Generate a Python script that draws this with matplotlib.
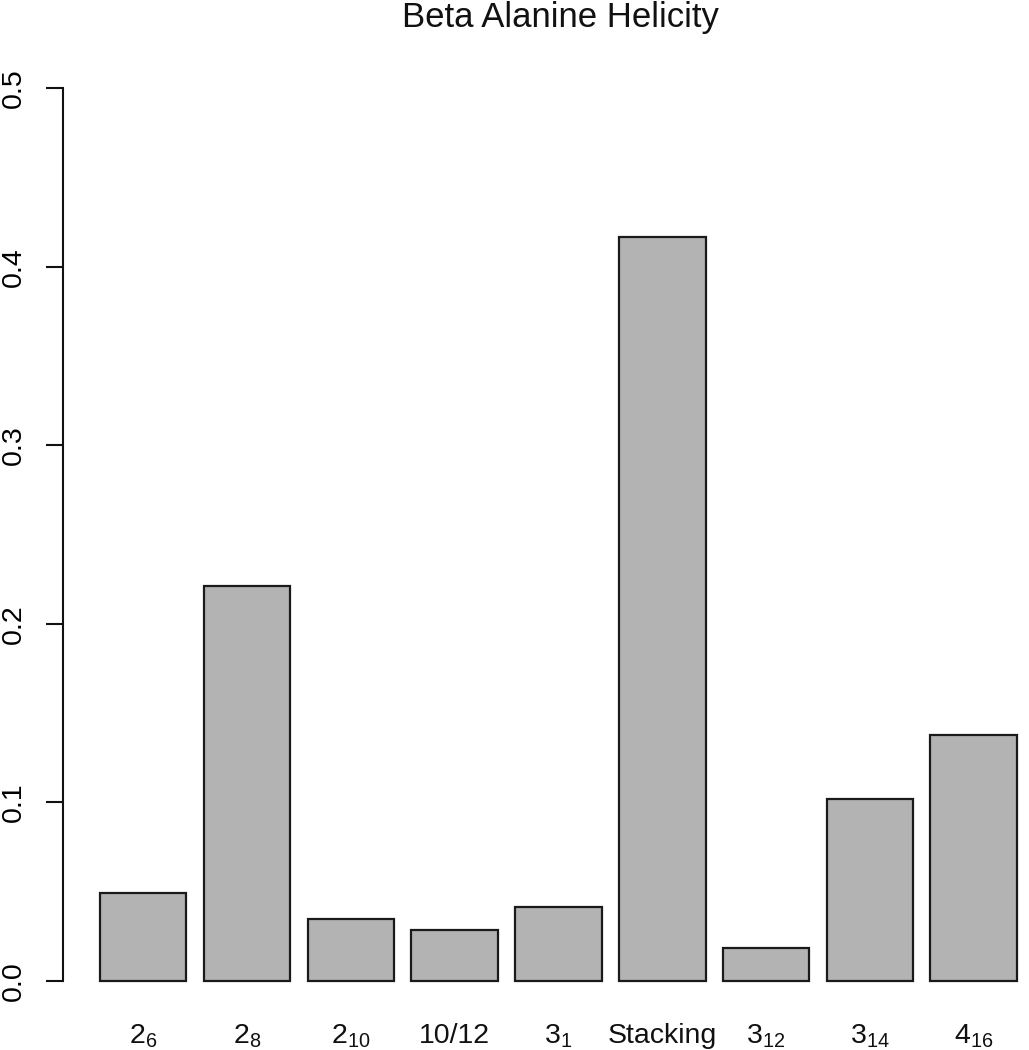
import matplotlib
matplotlib.use('Agg')
import matplotlib.pyplot as plt
import matplotlib.transforms as mtransforms

plt.rcParams['font.family'] = ['Liberation Sans', 'DejaVu Sans']
plt.rcParams['mathtext.fontset'] = 'custom'
plt.rcParams['mathtext.rm'] = 'Liberation Sans'
plt.rcParams['mathtext.it'] = 'Liberation Sans'

# data
categories = [r'$\mathregular{2_{6}}$', r'$\mathregular{2_{8}}$', r'$\mathregular{2_{10}}$',
              '10/12', r'$\mathregular{3_{1}}$', 'Stacking', r'$\mathregular{3_{12}}$',
              r'$\mathregular{3_{14}}$', r'$\mathregular{4_{16}}$']
values = [0.0493, 0.221, 0.0349, 0.0288, 0.0415, 0.4167, 0.0185, 0.1018, 0.1378]
yticks = [0.0, 0.1, 0.2, 0.3, 0.4, 0.5]
ytick_labels = ['0.0', '0.1', '0.2', '0.3', '0.4', '0.5']

W, H = 1029, 1050
fig = plt.figure(figsize=(W / 100, H / 100), dpi=100)
fig.patch.set_facecolor('white')

# plot region like R barplot (extends past the right edge of the image)
ax = fig.add_axes([63.3 / W, (H - 1016.7) / H, (1053.6 - 63.3) / W, (1016.7 - 52.6) / H])
ax.set_facecolor('none')

# R barplot geometry: width 1, space 0.2
centers = [0.7 + 1.2 * i for i in range(len(values))]
ax.bar(centers, values, width=1.0, color='#B3B3B3', edgecolor='#1A1A1A', linewidth=1.6)

ax.set_xlim(-0.224, 11.224)
ax.set_ylim(-0.02, 0.52)

for s in ['top', 'right', 'bottom']:
    ax.spines[s].set_visible(False)
ax.spines['left'].set_bounds(0, 0.5)
ax.spines['left'].set_linewidth(1.5)
ax.spines['left'].set_color('#111111')

ax.set_xticks([])
ax.set_yticks(yticks)
ax.set_yticklabels(ytick_labels, rotation=90, va='center', fontsize=20.5)
ax.tick_params(axis='y', length=12.5, width=1.5, pad=14, color='#111111')

trans = mtransforms.blended_transform_factory(ax.transData, fig.transFigure)
for x, lab in zip(centers, categories):
    ax.text(x, (H - 1043) / H, lab, transform=trans, ha='center', va='baseline',
            fontsize=20.5, color='#111111')

fig.text(560 / W, (H - 27) / H, 'Beta Alanine Helicity', ha='center', va='baseline',
         fontsize=25, color='#111111')

fig.savefig('out.png', dpi=100, facecolor='white')
